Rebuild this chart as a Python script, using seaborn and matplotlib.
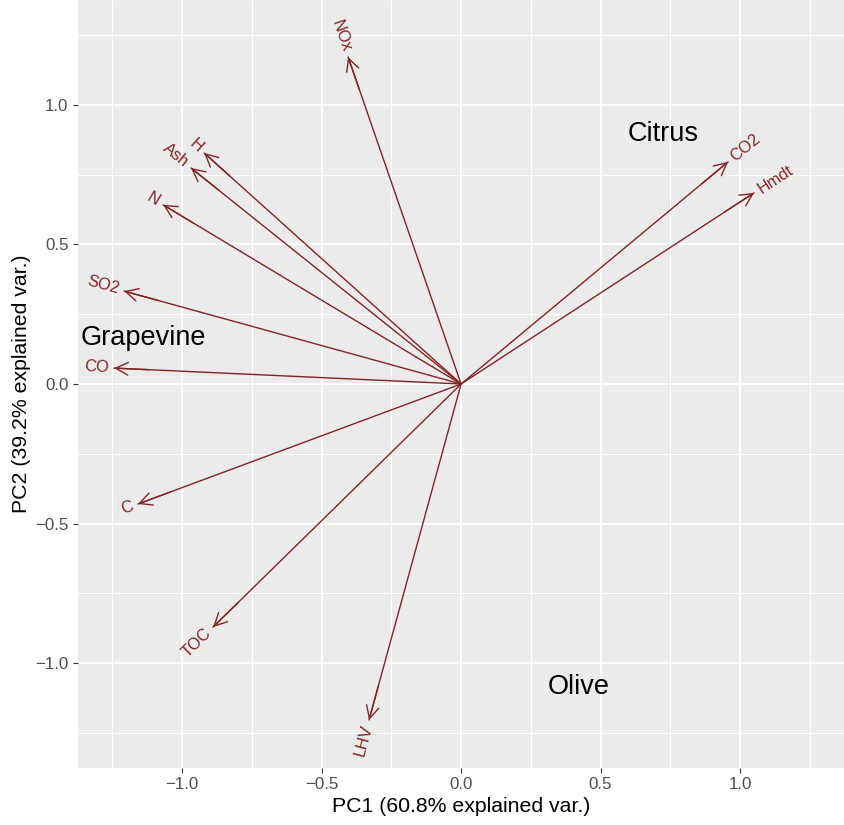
import numpy as np
import pandas as pd
import seaborn as sns
import matplotlib.pyplot as plt

# variable loadings (arrow tips)
variables = ["NOx", "H", "Ash", "N", "SO2", "CO", "C", "TOC", "LHV", "CO2", "Hmdt"]
pc1 = [-0.405, -0.921, -0.968, -1.068, -1.208, -1.244, -1.158, -0.889, -0.330, 0.957, 1.050]
pc2 = [1.172, 0.828, 0.774, 0.642, 0.333, 0.057, -0.430, -0.871, -1.204, 0.796, 0.685]

# group labels (observation positions)
groups = ["Grapevine", "Citrus", "Olive"]
group_pc1 = [-1.140, 0.724, 0.423]
group_pc2 = [0.165, 0.896, -1.086]

major_ticks = [-1.0, -0.5, 0.0, 0.5, 1.0]
minor_ticks = [-1.25, -0.75, -0.25, 0.25, 0.75, 1.25]

red = "#832424"

sns.set_theme(style="darkgrid", rc={"axes.facecolor": "#EBEBEB", "grid.color": "white"})
plt.rcParams["font.family"] = ["Liberation Sans", "DejaVu Sans"]

fig = plt.figure(figsize=(8.45, 8.25), dpi=100)
ax = fig.add_axes([78 / 845, 57 / 825, 767 / 845, 768 / 825])

# arrow shafts from the origin
seg = pd.DataFrame({
    "variable": np.repeat(variables, 2),
    "pc1": np.ravel([[0.0, x] for x in pc1]),
    "pc2": np.ravel([[0.0, y] for y in pc2]),
})
sns.lineplot(data=seg, x="pc1", y="pc2", units="variable", estimator=None,
             sort=False, color=red, lw=1.0, ax=ax, legend=False)

for name, x, y in zip(variables, pc1, pc2):
    # open arrowhead at the tip
    ax.annotate("", xy=(x, y), xytext=(0.9 * x, 0.9 * y),
                arrowprops=dict(arrowstyle="->,head_length=0.75,head_width=0.38",
                                color=red, lw=1.0, shrinkA=0, shrinkB=0))
    # label rotated along the arrow, just past the tip
    ang = np.degrees(np.arctan(y / x))
    r = np.hypot(x, y)
    ax.annotate(name, xy=(x, y), xytext=(4 * x / r, 4 * y / r), textcoords="offset points",
                rotation=ang, rotation_mode="anchor",
                ha="left" if x > 0 else "right", va="center",
                color=red, fontsize=11.8)

for g, x, y in zip(groups, group_pc1, group_pc2):
    ax.text(x, y, g, ha="center", va="center", fontsize=19.5, color="black")

ax.set_xlim(-1.373, 1.376)
ax.set_ylim(-1.376, 1.376)
ax.set_xticks(major_ticks)
ax.set_yticks(major_ticks)
ax.set_xticks(minor_ticks, minor=True)
ax.set_yticks(minor_ticks, minor=True)
ax.set_xticklabels([f"{t:.1f}".replace("-", "\u2212") for t in major_ticks])
ax.set_yticklabels([f"{t:.1f}".replace("-", "\u2212") for t in major_ticks])
ax.grid(which="major", color="white", lw=1.5)
ax.grid(which="minor", color="white", lw=0.75)
ax.set_axisbelow(True)
ax.tick_params(which="major", bottom=True, left=True, length=3.8, width=0.8,
               color="#333333", labelcolor="#4D4D4D", labelsize=12.2, pad=3)
ax.tick_params(which="minor", length=0)
for s in ax.spines.values():
    s.set_visible(False)

ax.set_xlabel("PC1 (60.8% explained var.)", fontsize=15.3, color="black", labelpad=3)
ax.set_ylabel("PC2 (39.2% explained var.)", fontsize=15.3, color="black", labelpad=3)

fig.savefig("out.png", dpi=100)
